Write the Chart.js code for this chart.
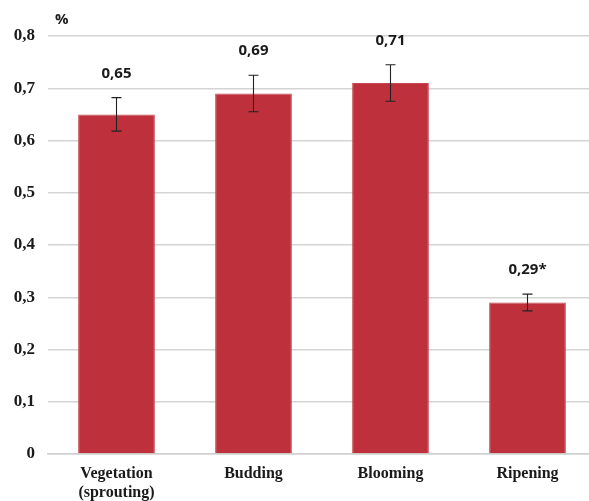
<!DOCTYPE html>
<html><head><meta charset="utf-8">
<script src="https://cdn.jsdelivr.net/npm/chart.js@4"></script>
<style>html,body{margin:0;padding:0;overflow:hidden;background:#fff}#wrap{width:596px;height:501px}</style>
</head><body><div id="wrap"><canvas id="c" width="596" height="501"></canvas></div>
<script>
const categories = [["Vegetation","(sprouting)"], "Budding", "Blooming", "Ripening"];
const values = [0.65, 0.69, 0.71, 0.29];
const errors = [0.032, 0.035, 0.035, 0.016];
const valueLabels = ["0,65", "0,69", "0,71", "0,29*"];
const yTicks = [0, 0.1, 0.2, 0.3, 0.4, 0.5, 0.6, 0.7, 0.8];
const unitLabel = "%";

const fmt = v => v === 0 ? "0" : v.toFixed(1).replace(".", ",");

const overlay = {
  id: "overlay",
  afterDatasetsDraw(chart) {
    const ctx = chart.ctx, x = chart.scales.x, y = chart.scales.y;
    ctx.save();
    values.forEach((v, i) => {
      const cx = x.getPixelForValue(i);
      const top = y.getPixelForValue(v + errors[i]);
      const bot = y.getPixelForValue(v - errors[i]);
      ctx.strokeStyle = "#222"; ctx.lineWidth = 1.1;
      ctx.beginPath();
      ctx.moveTo(cx, top); ctx.lineTo(cx, bot);
      ctx.moveTo(cx - 5, top); ctx.lineTo(cx + 5, top);
      ctx.moveTo(cx - 5, bot); ctx.lineTo(cx + 5, bot);
      ctx.stroke();
      ctx.fillStyle = "#1a1a1a";
      ctx.font = "bold 15px 'Open Sans', sans-serif";
      ctx.textAlign = "center"; ctx.textBaseline = "middle";
      ctx.fillText(valueLabels[i], cx, top - 24);
    });
    ctx.font = "bold 15px 'Open Sans', sans-serif";
    ctx.textAlign = "left"; ctx.textBaseline = "middle";
    ctx.fillText(unitLabel, 55, 20);
    ctx.restore();
  }
};

new Chart(document.getElementById("c"), {
  type: "bar",
  data: {
    labels: categories,
    datasets: [{
      data: values,
      backgroundColor: "#BE313C",
      borderColor: "#C84550",
      borderWidth: 1,
      barPercentage: 0.56,
      categoryPercentage: 1.0
    }]
  },
  options: {
    responsive: false,
    animation: false,
    layout: { padding: { top: 36, left: 0, right: 0, bottom: 0 } },
    plugins: { legend: { display: false }, tooltip: { enabled: false } },
    scales: {
      x: {
        grid: { display: false, drawTicks: false },
        border: { color: "#cfcfcf", width: 1.5 },
        ticks: {
          color: "#1a1a1a", padding: 11,
          font: { family: "'Liberation Serif', serif", weight: "bold", size: 16, lineHeight: 1.15 },
          maxRotation: 0
        },
        afterFit: s => { s.height = 47; }
      },
      y: {
        min: 0, max: 0.8,
        afterBuildTicks: s => { s.ticks = yTicks.map(v => ({ value: v })); },
        grid: { color: "#d4d4d4", lineWidth: 1.5, drawTicks: false },
        border: { display: false },
        ticks: {
          color: "#1a1a1a", padding: 13,
          font: { family: "'Liberation Serif', serif", weight: "bold", size: 17 },
          callback: v => fmt(v)
        },
        afterFit: s => { s.width = 48; }
      }
    }
  },
  plugins: [overlay]
});
</script></body></html>
